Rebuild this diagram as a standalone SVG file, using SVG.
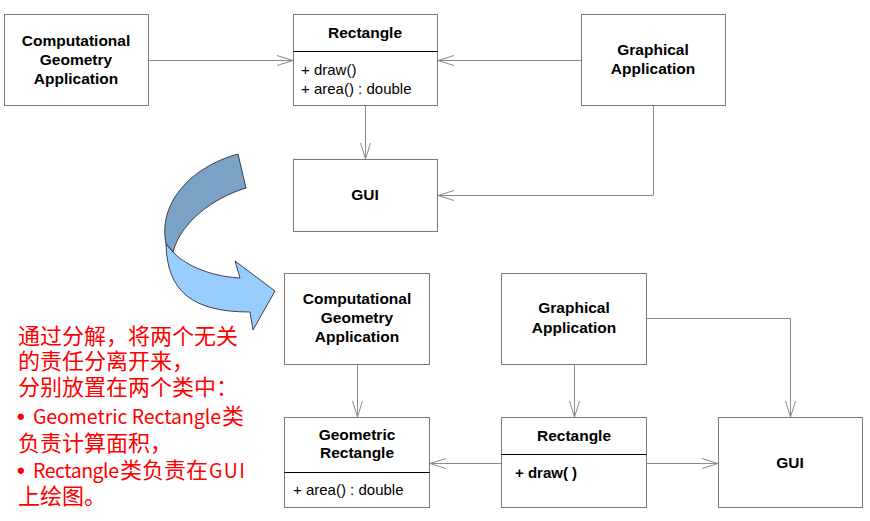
<svg xmlns="http://www.w3.org/2000/svg" width="870" height="521" viewBox="0 0 870 521">
<style>
.box{fill:#fff;stroke:#7a7a7a;stroke-width:1}
.div{stroke:#000;stroke-width:1}
.b{font-family:"Liberation Sans",Arial,sans-serif;font-size:15.5px;font-weight:bold;fill:#000;text-anchor:middle}
.r{font-family:"Liberation Sans",Arial,sans-serif;font-size:15px;fill:#000}
.con{fill:none;stroke:#8a8a8a;stroke-width:1}
.red{font-family:"Noto Sans CJK SC",sans-serif;font-size:22px;fill:#ff0000}
.lat{font-size:19.5px}
.bul{font-family:"Liberation Sans",Arial,sans-serif;font-weight:bold;font-size:22px}
</style>
<defs>
<marker id="open" markerUnits="userSpaceOnUse" markerWidth="18" markerHeight="12" refX="16" refY="5" orient="auto" overflow="visible">
<path d="M0,0 L16,5 L0,10" fill="none" stroke="#8a8a8a" stroke-width="1"/>
</marker>
</defs>
<rect width="870" height="521" fill="#fff"/>

<g id="top-cga">
<rect class="box" x="4.5" y="14.5" width="144" height="91"/>
<text class="b" x="76" y="46">Computational</text>
<text class="b" x="76" y="65">Geometry</text>
<text class="b" x="76" y="84">Application</text>
</g>
<g id="top-rectangle">
<rect class="box" x="293.5" y="14.5" width="144" height="91"/>
<line class="div" x1="293.5" y1="51.5" x2="437.5" y2="51.5"/>
<text class="b" x="365" y="38">Rectangle</text>
<text class="r" x="301" y="75">+ draw()</text>
<text class="r" x="301" y="94">+ area() : double</text>
</g>
<g id="top-graphical">
<rect class="box" x="581.5" y="14.5" width="144" height="91"/>
<text class="b" x="653" y="55">Graphical</text>
<text class="b" x="653" y="74">Application</text>
</g>
<g id="top-gui">
<rect class="box" x="293.5" y="159.5" width="144" height="72"/>
<text class="b" x="365" y="200">GUI</text>
</g>

<g id="bottom-cga">
<rect class="box" x="284.5" y="273.5" width="145" height="91"/>
<text class="b" x="357" y="304">Computational</text>
<text class="b" x="357" y="323">Geometry</text>
<text class="b" x="357" y="342">Application</text>
</g>
<g id="bottom-georect">
<rect class="box" x="284.5" y="417.5" width="145" height="90"/>
<line class="div" x1="284.5" y1="472.5" x2="429.5" y2="472.5"/>
<text class="b" x="357" y="440">Geometric</text>
<text class="b" x="357" y="458">Rectangle</text>
<text class="r" x="293" y="495">+ area() : double</text>
</g>
<g id="bottom-graphical">
<rect class="box" x="501.5" y="273.5" width="145" height="91"/>
<text class="b" x="574" y="313">Graphical</text>
<text class="b" x="574" y="333">Application</text>
</g>
<g id="bottom-rectangle">
<rect class="box" x="501.5" y="417.5" width="145" height="90"/>
<line class="div" x1="501.5" y1="454.5" x2="646.5" y2="454.5"/>
<text class="b" x="574" y="441">Rectangle</text>
<text class="r" x="515" y="478" font-weight="bold" fill="#3d4150">+ draw( )</text>
</g>
<g id="bottom-gui">
<rect class="box" x="718.5" y="417.5" width="144" height="90"/>
<text class="b" x="790" y="468">GUI</text>
</g>

<g id="connectors">
<line class="con" x1="149" y1="60.5" x2="293" y2="60.5" marker-end="url(#open)"/>
<line class="con" x1="581" y1="60.5" x2="438" y2="60.5" marker-end="url(#open)"/>
<line class="con" x1="365.5" y1="106" x2="365.5" y2="159" marker-end="url(#open)"/>
<polyline class="con" points="653.5,106 653.5,195.5 438,195.5" marker-end="url(#open)"/>
<line class="con" x1="357.5" y1="365" x2="357.5" y2="417" marker-end="url(#open)"/>
<line class="con" x1="574.5" y1="365" x2="574.5" y2="417" marker-end="url(#open)"/>
<polyline class="con" points="647,318.5 790.5,318.5 790.5,417" marker-end="url(#open)"/>
<line class="con" x1="501" y1="463.5" x2="430" y2="463.5" marker-end="url(#open)"/>
<line class="con" x1="647" y1="463.5" x2="718" y2="463.5" marker-end="url(#open)"/>
</g>

<g id="curved-arrow">
<path d="M238,154 L246,188 C213,198 181,222 173,252 L166,244 C158,205 188,168 238,154 Z" fill="#7ba3c8" stroke="#1a1a1a" stroke-width="0.8"/>
<path d="M173,252 C182,262 205,276 240,278 L235,261 L275,291 L253,330 L250,312 C193,312 167,292 166,244 Z" fill="#99ccff" stroke="#1a1a1a" stroke-width="0.8"/>
</g>

<g id="note">
<text class="red" x="18" y="344">通过分解，将两个无关</text>
<text class="red" x="18" y="369">的责任分离开来，</text>
<text class="red" x="18" y="395">分别放置在两个类中：</text>
<text class="red" y="424"><tspan class="bul" x="17">•</tspan><tspan class="lat" x="33" textLength="188" lengthAdjust="spacing">Geometric Rectangle</tspan><tspan x="222">类</tspan></text>
<text class="red" x="18" y="451">负责计算面积，</text>
<text class="red" y="478"><tspan class="bul" x="17">•</tspan><tspan class="lat" x="33" textLength="86" lengthAdjust="spacing">Rectangle</tspan><tspan x="120">类负责在</tspan><tspan class="lat" x="209" textLength="36" lengthAdjust="spacing">GUI</tspan></text>
<text class="red" x="18" y="504">上绘图。</text>
</g>
</svg>
